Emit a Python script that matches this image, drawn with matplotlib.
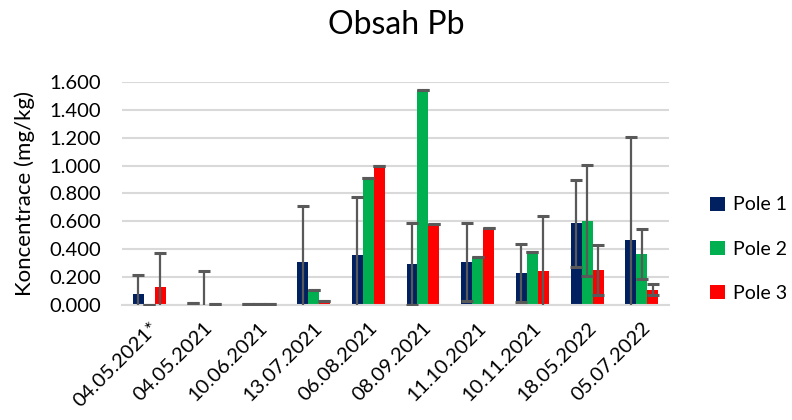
import numpy as np
import matplotlib.pyplot as plt

plt.rcParams['font.family'] = ['Lato', 'DejaVu Sans']

# data
dates = ['04.05.2021*', '04.05.2021', '10.06.2021', '13.07.2021', '06.08.2021',
         '08.09.2021', '11.10.2021', '10.11.2021', '18.05.2022', '05.07.2022']
pole1 = [0.076, 0.012, 0.005, 0.311, 0.360, 0.295, 0.309, 0.230, 0.585, 0.468]
pole2 = [0.003, 0.003, 0.005, 0.105, 0.913, 1.541, 0.347, 0.383, 0.604, 0.364]
pole3 = [0.132, 0.010, 0.004, 0.026, 0.995, 0.578, 0.549, 0.240, 0.249, 0.110]
err1 = [0.137, 0.0, 0.0, 0.400, 0.417, 0.292, 0.278, 0.210, 0.310, 0.740]
err2 = [0.0, 0.237, 0.0, 0.0, 0.0, 0.0, 0.0, 0.0, 0.400, 0.180]
err3 = [0.237, 0.0, 0.0, 0.0, 0.0, 0.0, 0.0, 0.400, 0.180, 0.042]

series = [('Pole 1', pole1, err1, '#002060'),
          ('Pole 2', pole2, err2, '#00B050'),
          ('Pole 3', pole3, err3, '#FF0000')]

fig = plt.figure(figsize=(7.92, 4.2), dpi=100)
ax = fig.add_axes([0.154, 0.274, 0.691, 0.531])

x = np.arange(len(dates))
w = 0.2
for i, (name, vals, errs, col) in enumerate(series):
    ax.bar(x + (i - 1) * w, vals, w, color=col, label=name, zorder=2,
           yerr=errs, error_kw=dict(ecolor='#595959', elinewidth=1.6,
                                    capsize=4.3, capthick=2.2, zorder=3))

ax.set_xlim(-0.5, len(dates) - 0.5)
ax.set_ylim(0, 1.6)
yt = np.arange(0, 1.61, 0.2)
ax.set_yticks(yt)
ax.set_yticklabels(['{:.3f}'.format(v) for v in yt], fontsize=14.5)
ax.set_xticks(x)
ax.set_xticklabels(dates, rotation=45, ha='right', rotation_mode='anchor', fontsize=14.5)
ax.tick_params(axis='y', length=0, pad=15)
ax.tick_params(axis='x', length=0, pad=10)
ax.yaxis.grid(True, color='#D9D9D9', linewidth=1.5, zorder=0)
ax.set_axisbelow(True)
for s in ['top', 'right', 'left']:
    ax.spines[s].set_visible(False)
ax.spines['bottom'].set_color('#D9D9D9')
ax.spines['bottom'].set_linewidth(1.5)

ax.set_ylabel('Koncentrace (mg/kg)', fontsize=16, labelpad=10)
fig.suptitle('Obsah Pb', fontsize=23, y=0.975)

ax.legend(loc='center left', bbox_to_anchor=(1.043, 0.25), frameon=False,
          fontsize=14, labelspacing=1.4, handlelength=0.75, handleheight=0.75,
          handletextpad=0.4)

plt.savefig('out.png', dpi=100)
